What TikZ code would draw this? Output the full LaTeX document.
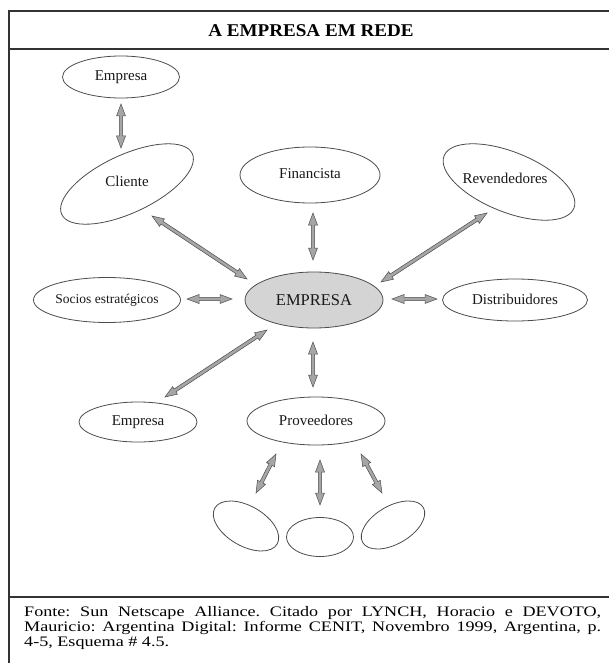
\documentclass[tikz,border=0pt]{standalone}
\usepackage{fontspec}
\setmainfont{Liberation Serif}
\newfontfamily\footfont[FakeStretch=1.25]{Liberation Serif}
\newfontfamily\titlefont[FakeStretch=1.06]{Liberation Serif}
\usetikzlibrary{calc,shapes.geometric}
\frenchspacing
\newcommand\arrHL{12pt}
\newcommand\arrHW{4.5pt}
\newcommand\arrSW{1.7pt}
\newcommand{\dblarr}[2]{%
  \coordinate (ha) at ($(#1)!\arrHL!(#2)$);
  \coordinate (hb) at ($(#2)!\arrHL!(#1)$);
  \filldraw[arrowbody] (#1) -- ($(ha)!\arrHW!90:(#2)$) -- ($(ha)!\arrSW!90:(#2)$)
    -- ($(hb)!\arrSW!-90:(#1)$) -- ($(hb)!\arrHW!-90:(#1)$) -- (#2)
    -- ($(hb)!\arrHW!90:(#1)$) -- ($(hb)!\arrSW!90:(#1)$)
    -- ($(ha)!\arrSW!-90:(#2)$) -- ($(ha)!\arrHW!-90:(#2)$) -- cycle;}
\tikzset{
  frame/.style={draw=black!80, line width=1.2pt},
  ell/.style={ellipse, draw=black!70, line width=0.8pt, inner sep=0pt, fill=white},
  lab/.style={font=\fontsize{15}{18}\selectfont, inner sep=0pt, text=black!90},
  arrowbody/.style={fill=black!35, draw=black!70, line width=0.5pt, line join=miter},
}
\begin{document}
\begin{tikzpicture}[x=1pt, y=-1pt]
\useasboundingbox (0,0) rectangle (609,663);
% frame
\draw[frame] (9,11) rectangle (616,670);
\draw[frame] (9,49) -- (616,49);
\draw[frame] (9,597) -- (616,597);
\node[font=\titlefont\bfseries\fontsize{18}{21}\selectfont, inner sep=0pt] (title) at (311,31) {A EMPRESA EM REDE};

% ellipses
\node[ell, minimum width=117pt, minimum height=42pt] (empT) at (121,77) {};
\node[ell, minimum width=144pt, minimum height=58pt, rotate=25] (cli) at (127,184) {};
\node[ell, minimum width=140pt, minimum height=56pt] (fin) at (310,175) {};
\node[ell, minimum width=140pt, minimum height=60pt, rotate=-22] (rev) at (509,182) {};
\node[ell, minimum width=138pt, minimum height=56pt, fill=black!17] (emp) at (314,300) {};
\node[ell, minimum width=147pt, minimum height=45pt] (soc) at (107,300) {};
\node[ell, minimum width=145pt, minimum height=42pt] (dis) at (515,300) {};
\node[ell, minimum width=118pt, minimum height=40pt] (empB) at (138,422) {};
\node[ell, minimum width=138pt, minimum height=48pt] (prov) at (316,421) {};
\node[ell, minimum width=72pt, minimum height=40pt, rotate=-30] (s1) at (246,526) {};
\node[ell, minimum width=67pt, minimum height=39pt] (s2) at (320,537) {};
\node[ell, minimum width=70pt, minimum height=38pt, rotate=30] (s3) at (393,525) {};

% labels
\node[lab] (empTl) at (121,77) {Empresa};
\node[lab] (clil) at (127,181) {Cliente};
\node[lab] (finl) at (310,174) {Financista};
\node[lab] (revl) at (505,178) {Revendedores};
\node[lab, font=\fontsize{16.5}{19}\selectfont] (empl) at (314,300) {EMPRESA};
\node[lab, font=\fontsize{13.5}{16}\selectfont] (socl) at (107,300) {Socios estratégicos};
\node[lab] (disl) at (515,299) {Distribuidores};
\node[lab] (empBl) at (138,422) {Empresa};
\node[lab] (provl) at (316,420) {Proveedores};

% arrow ends
\coordinate (a1s) at (121,104);  \coordinate (a1e) at (121,148);
\coordinate (a2s) at (152,216);  \coordinate (a2e) at (247,279);
\coordinate (a3s) at (313,213);  \coordinate (a3e) at (313,260);
\coordinate (a4s) at (487,213);  \coordinate (a4e) at (381,282);
\coordinate (a5s) at (187,299);  \coordinate (a5e) at (232,299);
\coordinate (a6s) at (392,299);  \coordinate (a6e) at (437,299);
\coordinate (a7s) at (267,330);  \coordinate (a7e) at (165,397);
\coordinate (a8s) at (313,342);  \coordinate (a8e) at (313,387);
\coordinate (a9s) at (276,454);  \coordinate (a9e) at (256,493);
\coordinate (a10s) at (320,460); \coordinate (a10e) at (320,505);
\coordinate (a11s) at (361,454); \coordinate (a11e) at (382,493);

\dblarr{a1s}{a1e}
\dblarr{a2s}{a2e}
\dblarr{a3s}{a3e}
\dblarr{a4s}{a4e}
\dblarr{a5s}{a5e}
\dblarr{a6s}{a6e}
\dblarr{a7s}{a7e}
\dblarr{a8s}{a8e}
\dblarr{a9s}{a9e}
\dblarr{a10s}{a10e}
\dblarr{a11s}{a11e}

% footer
\node[anchor=north west, inner sep=0pt, text width=577pt, align=justify,
      font=\footfont\fontsize{14.5}{15}\selectfont] (foot) at (24,606)
 {Fonte: Sun Netscape Alliance. Citado por LYNCH, Horacio e DEVOTO,\linebreak
  Mauricio: Argentina Digital: Informe CENIT, Novembro 1999, Argentina, p.\linebreak
  4-5, Esquema \# 4.5.};
\end{tikzpicture}
\end{document}
